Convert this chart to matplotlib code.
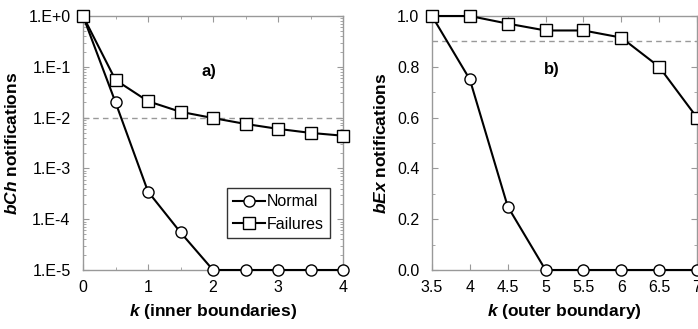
import matplotlib.pyplot as plt
from matplotlib.ticker import MultipleLocator, LogLocator, FixedFormatter, FixedLocator, NullFormatter

plt.rcParams['font.family'] = ['Liberation Sans', 'DejaVu Sans']
plt.rcParams['mathtext.fontset'] = 'custom'
plt.rcParams['mathtext.rm'] = 'Liberation Sans:bold'
plt.rcParams['mathtext.it'] = 'Liberation Sans:italic:bold'
plt.rcParams['mathtext.bf'] = 'Liberation Sans:bold'

# panel a) inner boundaries
k_inner = [0, 0.5, 1, 1.5, 2, 2.5, 3, 3.5, 4]
bch_normal = [1.0, 0.02, 3.5e-4, 5.5e-5, 1e-5, 1e-5, 1e-5, 1e-5, 1e-5]
bch_failures = [1.0, 0.055, 0.021, 0.013, 0.0098, 0.0075, 0.006, 0.005, 0.0044]
bch_threshold = 1e-2

# panel b) outer boundary
k_outer = [3.5, 4, 4.5, 5, 5.5, 6, 6.5, 7]
bex_normal = [1.0, 0.75, 0.25, 0.0, 0.0, 0.0, 0.0, 0.0]
bex_failures = [1.0, 1.0, 0.97, 0.943, 0.943, 0.915, 0.8, 0.6]
bex_threshold = 0.9

log_labels = ['1.E-5', '1.E-4', '1.E-3', '1.E-2', '1.E-1', '1.E+0']
outer_labels = ['3.5', '4', '4.5', '5', '5.5', '6', '6.5', '7']

fig = plt.figure(figsize=(6.98, 3.29), dpi=100)
ax1 = fig.add_axes([83/698, 1-270/329, 260/698, 254/329])
ax2 = fig.add_axes([432/698, 1-270/329, 265/698, 254/329])

def style(ax):
    for s in ax.spines.values():
        s.set_color('#999999')
        s.set_linewidth(1.0)
    ax.tick_params(which='both', direction='in', top=True, right=True,
                   color='#999999', labelsize=11.5)
    ax.tick_params(axis='y', pad=9)
    ax.tick_params(axis='x', pad=7)
    ax.tick_params(which='major', length=4)
    ax.tick_params(which='minor', length=2.5)

mk = dict(color='black', lw=1.5, markerfacecolor='white',
          markeredgecolor='black', markeredgewidth=1.0, clip_on=False, zorder=3)

# a)
ax1.axhline(bch_threshold, color='#999999', ls='--', lw=1, dashes=(4, 3))
ax1.plot(k_inner, bch_normal, marker='o', markersize=8, label='Normal', **mk)
ax1.plot(k_inner, bch_failures, marker='s', markersize=8, label='Failures', **mk)
ax1.set_yscale('log')
ax1.set_xlim(0, 4)
ax1.set_ylim(1e-5, 1)
ax1.yaxis.set_major_locator(FixedLocator([1e-5, 1e-4, 1e-3, 1e-2, 1e-1, 1]))
ax1.yaxis.set_major_formatter(FixedFormatter(log_labels))
ax1.yaxis.set_minor_locator(LogLocator(base=10, subs=range(2, 10), numticks=20))
ax1.yaxis.set_minor_formatter(NullFormatter())
ax1.xaxis.set_major_locator(MultipleLocator(1))
ax1.xaxis.set_minor_locator(MultipleLocator(0.5))
ax1.set_xlabel(r'$k$ $\it{(}$inner boundaries$\it{)}$', fontsize=12.5, fontweight='bold', labelpad=5)
ax1.set_ylabel(r'$bCh$ notifications', fontsize=12.5, fontweight='bold', labelpad=6)
ax1.text(1.94, 10**-1.1, 'a)', fontsize=12, fontweight='bold', ha='center', va='center')
style(ax1)
leg = ax1.legend(loc='lower right', bbox_to_anchor=(0.95, 0.126), fontsize=11.5,
                 frameon=True, fancybox=False, edgecolor='black', handlelength=2.0,
                 handletextpad=0.1, borderpad=0.4, labelspacing=0.45, borderaxespad=0)
leg.get_frame().set_linewidth(1.0)

# b)
ax2.axhline(bex_threshold, color='#999999', ls='--', lw=1, dashes=(4, 3))
ax2.plot(k_outer, bex_normal, marker='o', markersize=8, **mk)
ax2.plot(k_outer, bex_failures, marker='s', markersize=8, **mk)
ax2.set_xlim(3.5, 7)
ax2.set_ylim(0, 1.0)
ax2.xaxis.set_major_locator(FixedLocator(k_outer))
ax2.xaxis.set_major_formatter(FixedFormatter(outer_labels))
ax2.yaxis.set_major_locator(MultipleLocator(0.2))
ax2.yaxis.set_minor_locator(MultipleLocator(0.1))
ax2.yaxis.set_major_formatter(plt.FuncFormatter(lambda v, p: f'{v:.1f}'))
ax2.set_xlabel(r'$k$ $\it{(}$outer boundary$\it{)}$', fontsize=12.5, fontweight='bold', labelpad=5)
ax2.set_ylabel(r'$bEx$ notifications', fontsize=12.5, fontweight='bold', labelpad=6)
ax2.text(5.08, 0.79, 'b)', fontsize=12, fontweight='bold', ha='center', va='center')
style(ax2)

fig.savefig('out.png', dpi=100)
